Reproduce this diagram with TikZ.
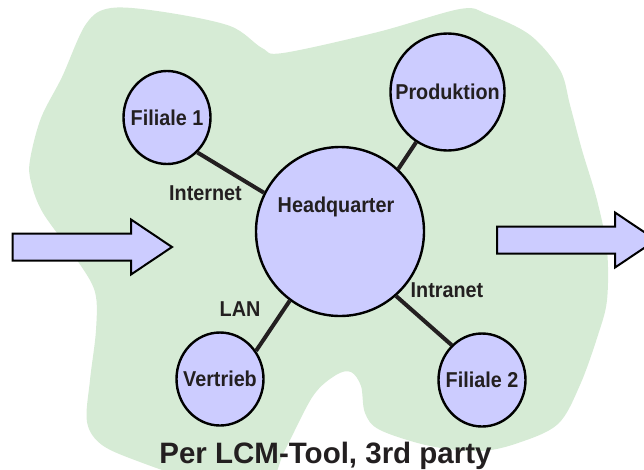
\documentclass[tikz,border=0pt]{standalone}
\usepackage{fontspec}
\setmainfont{Liberation Sans}
\newfontfamily\cond[FakeStretch=0.92]{Liberation Sans}
\usetikzlibrary{shapes.geometric}
\definecolor{blob}{RGB}{214,235,213}
\definecolor{lila}{RGB}{204,204,255}
\definecolor{ink}{RGB}{35,31,32}
\newcommand{\nb}[1]{\makebox[0pt]{#1}}

\begin{document}
\begin{tikzpicture}[x=1pt,y=-1pt,
    site/.style={ellipse, draw=black, line width=2.4pt, fill=lila, inner sep=0pt,
      text=ink, font=\cond\bfseries\fontsize{21.5}{25}\selectfont},
    small/.style={site, minimum width=87pt, minimum height=93pt},
    link/.style={draw=ink, line width=4pt},
    tag/.style={text=ink, anchor=base, font=\cond\bfseries\fontsize{21.5}{25}\selectfont},
    pipe/.style={draw=black, line width=2pt, fill=lila, line join=miter}]
       \useasboundingbox (0,0) rectangle (644,469);
       \clip (0,0) rectangle (644,469);

       % green area
       \fill[blob] plot[smooth cycle, tension=0.55] coordinates {
         (111,8) (164,12) (230,26) (262,48) (283,53) (378,32) (460,9) (487,14)
         (530,35) (560,70) (570,105) (582,150) (597,200) (607,250) (607,300)
         (598,335) (580,385) (558,424) (518,443) (480,451) (430,446) (380,430)
         (365,413) (361,386) (351,372) (336,375) (313,396) (285,450) (262,492)
         (195,480) (140,462) (102,445) (87,422) (90,380) (96,330) (95,292)
         (77,260) (43,213) (31,182) (30,160) (41,118) (62,77) (86,24)};

       % in / out
       \draw[pipe] (12.5,233.5) -- (131,233.5) -- (131,219.5) -- (172,247)
         -- (131,274.5) -- (131,260.5) -- (12.5,260.5) -- cycle;
       \draw[pipe] (497,226.5) -- (615,226.5) -- (615,212.5) -- (656,240)
         -- (615,267.5) -- (615,253.5) -- (497,253.5) -- cycle;

       \node(HQ)[site, minimum width=168pt, minimum height=169pt,
         label={[text=ink, font=\cond\bfseries\fontsize{21.5}{25}\selectfont,
           xshift=-4pt, yshift=25pt]center:Headquarter}] at (340,231.5) {};
       \node(F1)[small] at (167,117.5) {\nb{Filiale 1}};
       \node(PR)[site, minimum width=114pt, minimum height=117pt] at (447.5,92) {\nb{Produktion}};
       \node(VT)[small] at (220,379) {\nb{Vertrieb}};
       \node(F2)[small] at (482,380) {\nb{Filiale 2}};

       \draw[link] (HQ.153) -- (F1.-49);
       \draw[link] (HQ.47) -- (PR.-122);
       \draw[link] (HQ.-126) -- (VT.38);
       \draw[link] (HQ.-49) -- (F2.131);

       \node(NI)[tag] at (205.5,200) {Internet};
       \node(NL)[tag] at (240,316.7) {LAN};
       \node(NT)[tag] at (447,297.3) {Intranet};

       \node(NP)[tag, font=\bfseries\fontsize{29.5}{34}\selectfont] at (325.5,463) {Per LCM-Tool, 3rd party};
\end{tikzpicture}
\end{document}
